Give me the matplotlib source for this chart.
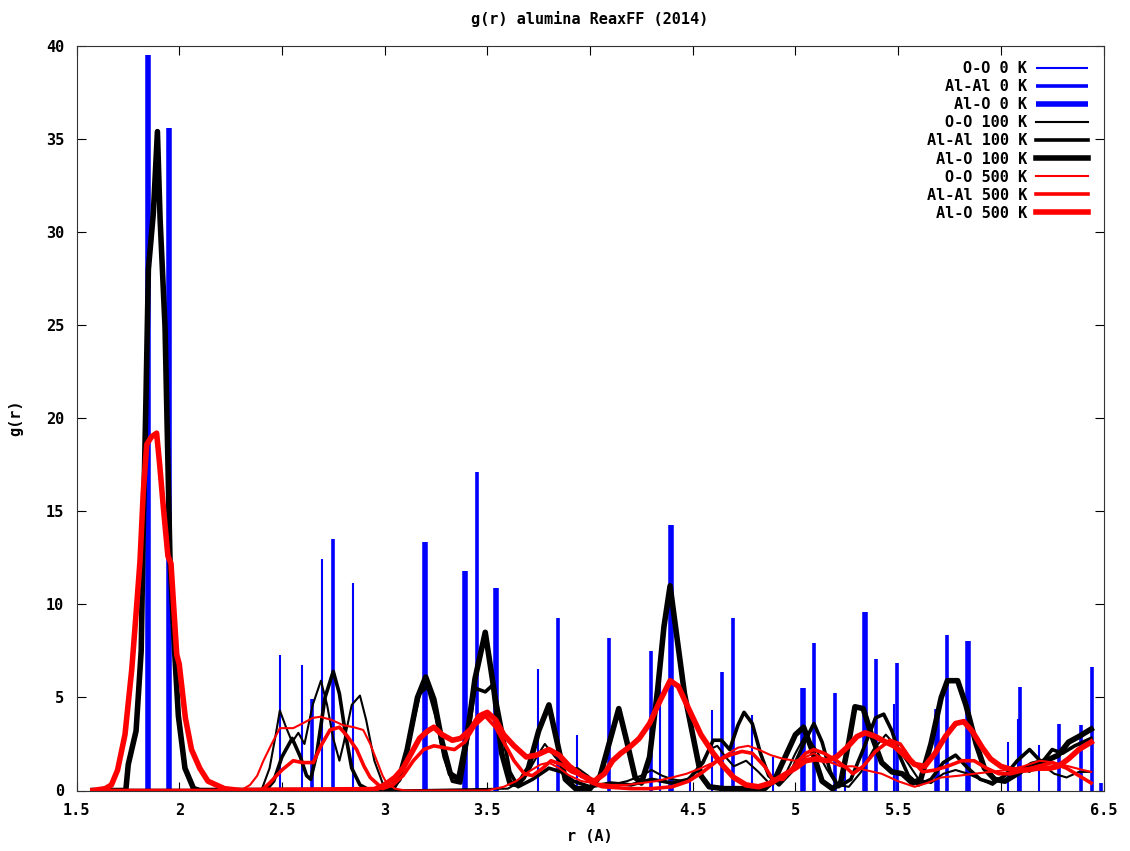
import numpy as np
import matplotlib
matplotlib.use("Agg")
import matplotlib.pyplot as plt

# --- 0 K: sharp peaks (position in A, height) ---
oo_0k_r = [2.491, 2.596, 2.694, 2.848, 3.745, 3.937, 4.341, 4.487, 4.594, 4.789,
           4.891, 5.241, 5.480, 6.035, 6.082, 6.187]
oo_0k_g = [7.28, 6.74, 12.44, 11.17, 6.53, 2.98, 7.28, 0.74, 4.33, 4.06,
           1.82, 1.80, 4.65, 2.60, 3.84, 2.44]

alal_0k_r = [2.648, 2.747, 3.448, 3.843, 4.093, 4.296, 4.643, 4.695, 5.090, 5.193,
             5.391, 5.493, 5.737, 6.094, 6.284, 6.389, 6.443, 6.490]
alal_0k_g = [4.92, 13.51, 17.11, 9.27, 8.19, 7.51, 6.38, 9.27, 7.93, 5.24,
             7.07, 6.85, 8.36, 5.58, 3.57, 3.52, 6.65, 0.40]

alo_0k_r = [1.847, 1.949, 3.197, 3.391, 3.542, 4.393, 5.037, 5.339, 5.688, 5.840]
alo_0k_g = [39.5, 35.6, 13.35, 11.81, 10.88, 14.27, 5.51, 9.59, 4.38, 8.05]

# --- 100 K ---
oo_100k_r = [1.58, 2.40, 2.44, 2.47, 2.49, 2.52, 2.55, 2.58, 2.61, 2.65, 2.69, 2.72, 2.75,
             2.78, 2.80, 2.84, 2.88, 2.91, 2.95, 2.99, 3.03, 3.60, 3.68, 3.74, 3.78, 3.83,
             3.88, 3.94, 3.99, 4.04, 4.10, 4.18, 4.25, 4.30, 4.35, 4.40, 4.46, 4.52, 4.58,
             4.62, 4.66, 4.70, 4.76, 4.82, 4.88, 4.94, 5.00, 5.05, 5.10, 5.15, 5.20, 5.26,
             5.32, 5.38, 5.44, 5.49, 5.54, 5.60, 5.66, 5.72, 5.78, 5.84, 5.90, 5.96, 6.02,
             6.08, 6.14, 6.20, 6.26, 6.32, 6.38, 6.44]
oo_100k_g = [0.0, 0.0, 1.2, 3.0, 4.3, 3.4, 2.6, 3.1, 2.5, 4.6, 5.9, 4.6, 2.8,
             1.6, 2.5, 4.6, 5.1, 3.8, 1.6, 0.4, 0.0, 0.1, 0.6, 1.8, 2.5, 1.8,
             1.2, 1.2, 0.8, 0.3, 0.3, 0.5, 0.8, 1.1, 0.8, 0.6, 0.5, 1.0, 2.2,
             2.4, 1.8, 1.3, 1.6, 1.0, 0.3, 0.6, 2.0, 3.0, 2.2, 1.2, 0.3, 0.2,
             1.0, 2.2, 3.0, 2.4, 1.6, 0.6, 0.4, 0.9, 1.1, 0.9, 0.6, 0.3, 0.8,
             1.2, 1.0, 1.4, 0.9, 0.7, 1.0, 1.0]

alal_100k_r = [1.58, 2.42, 2.46, 2.50, 2.55, 2.59, 2.62, 2.64, 2.67, 2.71, 2.75, 2.78, 2.81,
               2.84, 2.88, 2.93, 3.04, 3.08, 3.12, 3.17, 3.21, 3.25, 3.29, 3.33, 3.37, 3.40,
               3.44, 3.49, 3.53, 3.57, 3.61, 3.65, 3.72, 3.80, 3.86, 3.92, 4.00, 4.10, 4.20,
               4.30, 4.40, 4.48, 4.55, 4.60, 4.64, 4.68, 4.72, 4.75, 4.79, 4.83, 4.87, 4.92,
               4.98, 5.04, 5.09, 5.13, 5.17, 5.21, 5.27, 5.33, 5.39, 5.43, 5.47, 5.51, 5.55,
               5.60, 5.66, 5.72, 5.78, 5.84, 5.90, 5.96, 6.02, 6.08, 6.14, 6.20, 6.25, 6.30,
               6.36, 6.44]
alal_100k_g = [0.0, 0.0, 0.5, 1.8, 2.8, 1.8, 0.8, 0.6, 2.0, 5.0, 6.4, 5.2, 3.0,
               1.2, 0.3, 0.0, 0.0, 0.8, 2.8, 5.2, 5.6, 4.0, 1.8, 0.5, 0.4, 2.5,
               5.5, 5.3, 5.7, 3.4, 1.0, 0.2, 0.6, 1.2, 1.0, 0.5, 0.2, 0.4, 0.3,
               0.6, 0.4, 0.6, 1.5, 2.7, 2.7, 2.2, 3.5, 4.2, 3.6, 2.0, 0.8, 0.3,
               1.0, 2.5, 3.6, 2.6, 1.0, 0.2, 0.6, 2.2, 3.9, 4.1, 3.2, 1.8, 0.8,
               0.3, 0.6, 1.5, 1.9, 1.2, 0.6, 0.4, 0.8, 1.6, 2.2, 1.5, 2.2, 2.0,
               2.4, 2.8]

alo_100k_r = [1.58, 1.74, 1.752, 1.79, 1.815, 1.825, 1.838, 1.85, 1.874, 1.894, 1.907, 1.931,
              1.955, 1.98, 1.996, 2.028, 2.07, 2.10, 3.02, 3.07, 3.11, 3.16, 3.20, 3.24, 3.28,
              3.32, 3.36, 3.40, 3.44, 3.49, 3.53, 3.57, 3.61, 3.65, 3.70, 3.75, 3.80, 3.84,
              3.88, 3.93, 4.00, 4.05, 4.10, 4.14, 4.18, 4.22, 4.25, 4.29, 4.33, 4.36, 4.39,
              4.42, 4.46, 4.50, 4.54, 4.58, 4.65, 4.85, 4.90, 4.95, 5.00, 5.04, 5.08, 5.13,
              5.18, 5.22, 5.26, 5.29, 5.33, 5.37, 5.42, 5.47, 5.52, 5.57, 5.61, 5.66, 5.71,
              5.74, 5.79, 5.83, 5.88, 5.92, 5.97, 6.02, 6.08, 6.15, 6.22, 6.28, 6.33, 6.38,
              6.44]
alo_100k_g = [0.0, 0.0, 1.4, 3.2, 7.5, 14.0, 21.0, 28.0, 31.0, 35.4, 30.7, 24.9,
              12.5, 7.0, 4.0, 1.2, 0.1, 0.0, 0.0, 0.6, 2.2, 5.0, 6.1, 4.9, 2.6,
              0.9, 0.6, 2.8, 6.0, 8.5, 5.6, 2.0, 0.4, 0.3, 1.2, 3.2, 4.6, 2.6,
              0.6, 0.1, 0.1, 0.8, 2.8, 4.4, 2.6, 0.7, 0.4, 1.8, 5.5, 8.8, 11.0,
              8.5, 5.2, 3.0, 0.8, 0.2, 0.1, 0.1, 0.6, 1.8, 3.0, 3.4, 2.2, 0.5,
              0.1, 0.4, 2.6, 4.5, 4.4, 3.0, 1.5, 1.0, 0.9, 0.4, 0.6, 2.5, 5.0,
              5.9, 5.9, 4.6, 2.5, 1.2, 0.6, 0.5, 0.9, 1.4, 1.6, 1.9, 2.6, 2.9,
              3.3]

# --- 500 K ---
oo_500k_r = [1.58, 2.30, 2.345, 2.38, 2.41, 2.45, 2.49, 2.555, 2.60, 2.65, 2.686, 2.74, 2.80,
             2.85, 2.896, 2.93, 2.962, 2.99, 3.01, 3.05, 3.10, 3.50, 3.58, 3.64, 3.70, 3.76,
             3.80, 3.85, 3.90, 3.96, 4.02, 4.10, 4.18, 4.25, 4.32, 4.40, 4.47, 4.54, 4.60,
             4.66, 4.72, 4.77, 4.82, 4.88, 4.94, 5.00, 5.05, 5.09, 5.15, 5.22, 5.28, 5.34,
             5.42, 5.50, 5.58, 5.64, 5.71, 5.80, 5.87, 5.95, 6.03, 6.11, 6.19, 6.26, 6.33,
             6.40, 6.44]
oo_500k_g = [0.0, 0.0, 0.3, 0.8, 1.6, 2.5, 3.35, 3.35, 3.6, 3.9, 3.96, 3.8, 3.5,
             3.4, 3.25, 2.5, 1.6, 0.8, 0.4, 0.1, 0.0, 0.0, 0.2, 0.5, 1.0, 1.4,
             1.5, 1.2, 0.8, 0.5, 0.4, 0.3, 0.3, 0.4, 0.5, 0.7, 0.9, 1.2, 1.5,
             1.9, 2.3, 2.4, 2.2, 1.9, 1.7, 1.6, 1.8, 2.0, 1.6, 1.3, 1.3, 1.1,
             0.9, 0.5, 0.2, 0.4, 0.7, 0.8, 0.9, 1.0, 1.1, 1.3, 1.6, 1.5, 1.3,
             1.1, 1.0]

alal_500k_r = [1.58, 2.40, 2.44, 2.50, 2.555, 2.60, 2.653, 2.69, 2.734, 2.78, 2.82, 2.864,
               2.90, 2.93, 2.99, 3.04, 3.09, 3.14, 3.19, 3.24, 3.29, 3.34, 3.39, 3.44, 3.49,
               3.54, 3.59, 3.63, 3.68, 3.72, 3.77, 3.81, 3.86, 3.91, 3.96, 4.01, 4.06, 4.20,
               4.30, 4.40, 4.48, 4.55, 4.62, 4.68, 4.74, 4.79, 4.85, 4.89, 4.94, 5.00, 5.05,
               5.09, 5.14, 5.20, 5.25, 5.28, 5.33, 5.39, 5.46, 5.51, 5.56, 5.62, 5.68, 5.74,
               5.81, 5.87, 5.93, 5.99, 6.05, 6.12, 6.18, 6.25, 6.32, 6.38, 6.44]
alal_500k_g = [0.0, 0.0, 0.4, 1.1, 1.6, 1.5, 1.5, 2.4, 3.25, 3.4, 2.9, 2.2,
               1.3, 0.7, 0.1, 0.3, 0.8, 1.6, 2.2, 2.4, 2.3, 2.2, 2.6, 3.5, 4.0,
               3.4, 2.4, 1.6, 0.9, 0.8, 1.2, 1.6, 1.4, 1.0, 0.8, 0.4, 0.2, 0.1,
               0.1, 0.2, 0.5, 1.0, 1.6, 1.9, 2.1, 2.0, 1.3, 0.6, 0.6, 1.4, 2.0,
               2.2, 2.0, 1.6, 1.2, 0.9, 1.3, 2.1, 2.7, 2.5, 1.7, 1.0, 1.1, 1.3,
               1.6, 1.6, 1.2, 0.9, 0.9, 1.1, 1.3, 1.5, 1.2, 0.8, 0.4]

alo_500k_r = [1.58, 1.64, 1.67, 1.70, 1.736, 1.769, 1.79, 1.809, 1.825, 1.842, 1.865, 1.89,
              1.905, 1.923, 1.945, 1.96, 1.988, 2.00, 2.03, 2.06, 2.10, 2.14, 2.18, 2.22,
              2.30, 2.95, 3.00, 3.05, 3.09, 3.13, 3.17, 3.21, 3.24, 3.28, 3.33, 3.37, 3.42,
              3.46, 3.50, 3.54, 3.58, 3.63, 3.69, 3.74, 3.80, 3.85, 3.90, 3.96, 4.02, 4.07,
              4.11, 4.15, 4.20, 4.24, 4.29, 4.34, 4.39, 4.43, 4.48, 4.54, 4.60, 4.65, 4.70,
              4.76, 4.82, 4.88, 4.94, 5.00, 5.05, 5.10, 5.15, 5.20, 5.25, 5.30, 5.34, 5.39,
              5.44, 5.48, 5.53, 5.58, 5.63, 5.68, 5.73, 5.78, 5.82, 5.86, 5.91, 5.95, 6.00,
              6.06, 6.12, 6.18, 6.24, 6.28, 6.33, 6.38, 6.44]
alo_500k_g = [0.0, 0.1, 0.3, 1.1, 3.0, 6.5, 9.5, 12.3, 16.0, 18.6, 19.0, 19.2,
              17.5, 15.2, 12.6, 12.2, 7.3, 6.8, 3.9, 2.2, 1.2, 0.5, 0.3, 0.1,
              0.0, 0.05, 0.3, 0.7, 1.2, 2.0, 2.8, 3.2, 3.4, 3.0, 2.7, 2.8, 3.3,
              4.0, 4.2, 3.8, 3.0, 2.4, 1.8, 1.9, 2.2, 1.9, 1.3, 0.8, 0.5, 0.9,
              1.6, 2.0, 2.4, 2.8, 3.6, 4.8, 5.9, 5.6, 4.4, 3.0, 2.0, 1.3, 0.7,
              0.3, 0.2, 0.4, 0.8, 1.2, 1.6, 1.7, 1.6, 1.8, 2.3, 2.9, 3.1, 2.9,
              2.6, 2.4, 1.9, 1.4, 1.3, 2.0, 2.9, 3.6, 3.7, 3.2, 2.3, 1.7, 1.3,
              1.1, 1.1, 1.2, 1.2, 1.3, 1.7, 2.2, 2.6]

# line widths in points: O-O thin, Al-Al medium, Al-O thick
LW = {"O-O": 1.5, "Al-Al": 2.6, "Al-O": 4.0}

plt.rcParams["font.family"] = "DejaVu Sans Mono"
plt.rcParams["font.weight"] = "bold"
plt.rcParams["font.size"] = 11

fig = plt.figure(figsize=(11.3, 8.51), dpi=100)
ax = fig.add_axes([76.5 / 1130, 60.5 / 851, 1027 / 1130, 744.5 / 851])

# 0 K peaks as vertical spikes
ax.vlines(oo_0k_r, 0, oo_0k_g, colors="#0000ff", linewidth=LW["O-O"], label="O-O 0 K")
ax.vlines(alal_0k_r, 0, alal_0k_g, colors="#0000ff", linewidth=LW["Al-Al"], label="Al-Al 0 K")
ax.vlines(alo_0k_r, 0, alo_0k_g, colors="#0000ff", linewidth=LW["Al-O"], label="Al-O 0 K")

ax.plot(oo_100k_r, oo_100k_g, color="black", lw=LW["O-O"], label="O-O 100 K")
ax.plot(alal_100k_r, alal_100k_g, color="black", lw=LW["Al-Al"], label="Al-Al 100 K")
ax.plot(alo_100k_r, alo_100k_g, color="black", lw=LW["Al-O"], label="Al-O 100 K")

ax.plot(oo_500k_r, oo_500k_g, color="#ff0000", lw=LW["O-O"], label="O-O 500 K")
ax.plot(alal_500k_r, alal_500k_g, color="#ff0000", lw=LW["Al-Al"], label="Al-Al 500 K")
ax.plot(alo_500k_r, alo_500k_g, color="#ff0000", lw=LW["Al-O"], label="Al-O 500 K")

ax.set_xlim(1.5, 6.5)
ax.set_ylim(0, 40)
ax.set_xticks(np.arange(1.5, 6.51, 0.5))
ax.set_xticklabels(["1.5", "2", "2.5", "3", "3.5", "4", "4.5", "5", "5.5", "6", "6.5"])
ax.set_yticks(np.arange(0, 41, 5))
ax.tick_params(direction="in", length=6.5, width=0.8, top=True, right=True,
               labelsize=11)
ax.tick_params(axis="x", pad=9)
ax.tick_params(axis="y", pad=9)
for s in ax.spines.values():
    s.set_linewidth(0.8)
    s.set_color("#333333")

ax.set_title("g(r) alumina ReaxFF (2014)", fontsize=11, fontweight="bold", pad=16)
ax.set_xlabel("r (A)", fontsize=11, fontweight="bold", labelpad=8)
ax.set_ylabel("g(r)", fontsize=11, fontweight="bold", labelpad=16)

ax.legend(loc="upper right", frameon=False, markerfirst=False, fontsize=11,
          handlelength=3.4, handletextpad=0.6, labelspacing=0.2,
          borderaxespad=0.8, borderpad=0.2)

fig.savefig("out.png", dpi=100)
